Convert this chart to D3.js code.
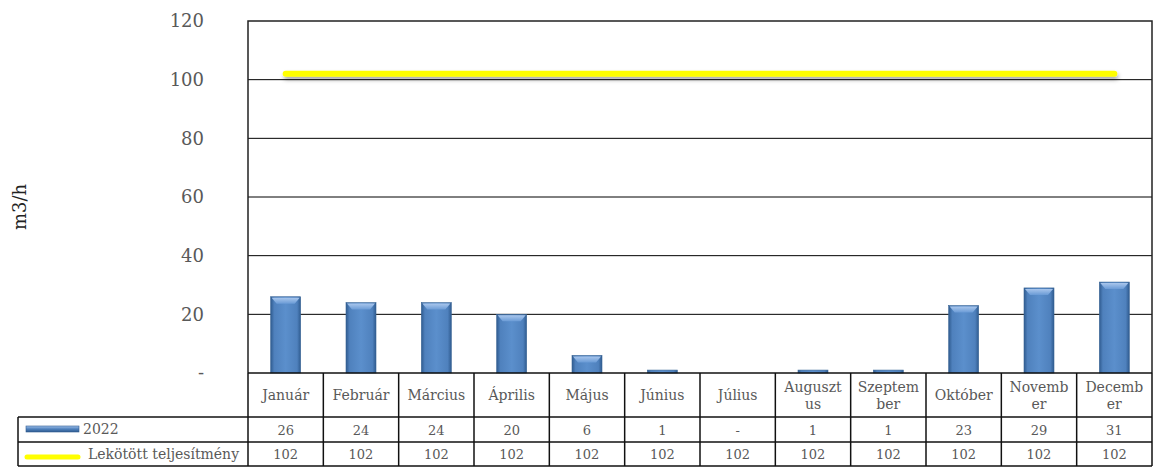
<!DOCTYPE html>
<html>
<head>
<meta charset="utf-8">
<script src="https://cdn.jsdelivr.net/npm/d3@7"></script>
<style>
  body { margin: 0; background: #fff; }
  text { font-family: Georgia, "DejaVu Serif", serif; fill: #595959; }
</style>
</head>
<body>
<script>
// adatok
const honapok = ["Január", "Február", "Március", "Április", "Május", "Június", "Július", "Augusztus", "Szeptember", "Október", "November", "December"];
const honapCimkek = [["Január"], ["Február"], ["Március"], ["Április"], ["Május"], ["Június"], ["Július"], ["Auguszt", "us"], ["Szeptem", "ber"], ["Október"], ["Novemb", "er"], ["Decemb", "er"]];
const ertek2022 = [26, 24, 24, 20, 6, 1, 0, 1, 1, 23, 29, 31];
const lekotott = [102, 102, 102, 102, 102, 102, 102, 102, 102, 102, 102, 102];
const yTicks = [0, 20, 40, 60, 80, 100, 120];

const W = 1153, H = 467;
const pLeft = 248, pRight = 1152, pTop = 21, pBottom = 373;
const tLeft = 18, rowY = [373, 417, 442, 466];

const svg = d3.select("body").append("svg")
  .attr("width", W).attr("height", H);

const defs = svg.append("defs");
const g1 = defs.append("linearGradient").attr("id", "barGrad")
  .attr("x1", 0).attr("x2", 1).attr("y1", 0).attr("y2", 0);
g1.append("stop").attr("offset", "0%").attr("stop-color", "#2f5b8f");
g1.append("stop").attr("offset", "12%").attr("stop-color", "#4f81bd");
g1.append("stop").attr("offset", "50%").attr("stop-color", "#5b8fcc");
g1.append("stop").attr("offset", "88%").attr("stop-color", "#4f81bd");
g1.append("stop").attr("offset", "100%").attr("stop-color", "#2f5b8f");
const g2 = defs.append("linearGradient").attr("id", "topGrad")
  .attr("x1", 0).attr("x2", 0).attr("y1", 0).attr("y2", 1);
g2.append("stop").attr("offset", "0%").attr("stop-color", "#a9c6ec");
g2.append("stop").attr("offset", "100%").attr("stop-color", "#6a9bd6");
const lg = defs.append("linearGradient").attr("id", "legGrad")
  .attr("x1", 0).attr("x2", 0).attr("y1", 0).attr("y2", 1);
lg.append("stop").attr("offset", "0%").attr("stop-color", "#9fc0ea");
lg.append("stop").attr("offset", "50%").attr("stop-color", "#4f81bd");
lg.append("stop").attr("offset", "100%").attr("stop-color", "#2f5b8f");
const sh = defs.append("filter").attr("id", "shadow")
  .attr("x", "-5%").attr("y", "-100%").attr("width", "110%").attr("height", "400%")
  .attr("filterUnits", "userSpaceOnUse");
sh.attr("x", 0).attr("y", 0).attr("width", W).attr("height", H);
sh.append("feDropShadow").attr("dx", 1).attr("dy", 3).attr("stdDeviation", 2)
  .attr("flood-color", "#000").attr("flood-opacity", 0.35);

const x = d3.scaleBand().domain(honapok).range([pLeft, pRight]);
const y = d3.scaleLinear().domain([0, 120]).range([pBottom, pTop]);

// rácsvonalak
svg.append("g").selectAll("line")
  .data(yTicks.filter(d => d > 0 && d < 120))
  .enter().append("line")
  .attr("x1", pLeft).attr("x2", pRight)
  .attr("y1", d => y(d)).attr("y2", d => y(d))
  .attr("stroke", "#000").attr("stroke-width", 1);

// keret
svg.append("path")
  .attr("d", `M${pLeft},${pBottom}V${pTop}H${pRight}V${pBottom}`)
  .attr("fill", "none").attr("stroke", "#222").attr("stroke-width", 1.5);

// y tengely feliratok
const yAxis = svg.append("g")
  .attr("transform", `translate(${pLeft - 44},0)`)
  .call(d3.axisLeft(y).tickValues(yTicks).tickSize(0).tickPadding(0)
    .tickFormat(d => d === 0 ? "-" : d));
yAxis.select(".domain").remove();
yAxis.selectAll("text")
  .style("font-family", "Georgia, 'DejaVu Serif', serif")
  .style("fill", "#595959")
  .style("font-size", "18px");

svg.append("text")
  .attr("transform", `translate(26,${(pTop + pBottom) / 2 + 10}) rotate(-90)`)
  .attr("text-anchor", "middle")
  .style("font-size", "18px")
  .style("fill", "#222")
  .text("m3/h");

// oszlopok
const bw = 30;
const bars = svg.append("g").selectAll("g")
  .data(honapok.map((m, i) => ({ m, v: ertek2022[i] })).filter(d => d.v > 0))
  .enter().append("g");
bars.append("rect")
  .attr("x", d => x(d.m) + x.bandwidth() / 2 - bw / 2)
  .attr("y", d => y(d.v))
  .attr("width", bw)
  .attr("height", d => pBottom - y(d.v))
  .attr("fill", "url(#barGrad)")
  .attr("stroke", "#3a6596").attr("stroke-width", 0.6);
bars.filter(d => pBottom - y(d.v) > 10).append("path")
  .attr("d", d => {
    const x0 = x(d.m) + x.bandwidth() / 2 - bw / 2, y0 = y(d.v);
    return `M${x0 + 1},${y0 + 1}H${x0 + bw - 1}L${x0 + bw - 6},${y0 + 7}H${x0 + 6}Z`;
  })
  .attr("fill", "url(#topGrad)");

// lekötött teljesítmény vonal
const line = d3.line()
  .x((d, i) => x(honapok[i]) + x.bandwidth() / 2)
  .y(d => y(d));
svg.append("path")
  .datum(lekotott)
  .attr("d", line)
  .attr("fill", "none")
  .attr("stroke", "#ffff00")
  .attr("stroke-width", 6)
  .attr("stroke-linecap", "round")
  .attr("filter", "url(#shadow)");

// adattábla
const tbl = svg.append("g");
const tline = (x1, y1, x2, y2, w) => tbl.append("line")
  .attr("x1", x1).attr("y1", y1).attr("x2", x2).attr("y2", y2)
  .attr("stroke", "#111").attr("stroke-width", w || 1);

tline(pLeft, pBottom, pRight, pBottom, 1.5);
tline(tLeft, rowY[1], pRight, rowY[1], 1.5);
tline(tLeft, rowY[2], pRight, rowY[2], 1.5);
tline(tLeft, rowY[3], pRight, rowY[3], 1.5);
tline(tLeft, rowY[1], tLeft, rowY[3], 1.5);
honapok.forEach(m => tline(x(m), pBottom, x(m), rowY[3], 1.5));
tline(pRight, pBottom, pRight, rowY[3], 1.5);

// hónap fejléc
tbl.append("g").selectAll("text")
  .data(honapCimkek)
  .enter().append("text")
  .attr("text-anchor", "middle")
  .style("font-size", "14px")
  .each(function (lines, i) {
    const cx = x(honapok[i]) + x.bandwidth() / 2;
    const cy = (rowY[0] + rowY[1]) / 2;
    const t = d3.select(this);
    lines.forEach((s, k) => {
      t.append("tspan")
        .attr("x", cx)
        .attr("y", cy + 5 + (k - (lines.length - 1) / 2) * 17)
        .text(s);
    });
  });

const rows = [
  { vals: ertek2022, fmt: v => v === 0 ? "-" : v, ry: (rowY[1] + rowY[2]) / 2 },
  { vals: lekotott, fmt: v => v, ry: (rowY[2] + rowY[3]) / 2 }
];
rows.forEach(r => {
  tbl.append("g").selectAll("text")
    .data(r.vals)
    .enter().append("text")
    .attr("x", (d, i) => x(honapok[i]) + x.bandwidth() / 2)
    .attr("y", r.ry + 5)
    .attr("text-anchor", "middle")
    .style("font-size", "13px")
    .text(r.fmt);
});

// jelmagyarázat a táblában
tbl.append("rect")
  .attr("x", 26).attr("y", 426).attr("width", 53).attr("height", 6)
  .attr("fill", "url(#legGrad)").attr("stroke", "#2f5b8f").attr("stroke-width", 0.6);
tbl.append("text").attr("x", 83).attr("y", rowY[1] + 17)
  .style("font-size", "14px").text("2022");
tbl.append("line")
  .attr("x1", 27).attr("x2", 78).attr("y1", 457).attr("y2", 457)
  .attr("stroke", "#ffff00").attr("stroke-width", 5).attr("stroke-linecap", "round");
tbl.append("text").attr("x", 88).attr("y", rowY[2] + 17)
  .style("font-size", "14px").text("Lekötött teljesítmény");
</script>
</body>
</html>
